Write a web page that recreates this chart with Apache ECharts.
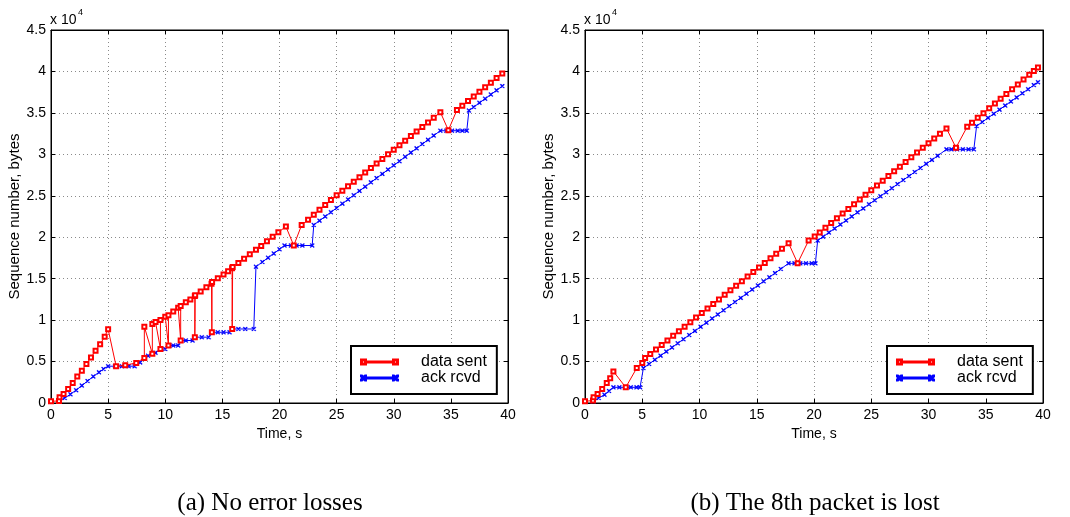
<!DOCTYPE html>
<html>
<head>
<meta charset="utf-8">
<script src="https://cdn.jsdelivr.net/npm/echarts@6/dist/echarts.min.js"></script>
<style>
html,body{margin:0;padding:0;background:#fff;}
#chart{width:1070px;height:517px;}
</style>
</head>
<body>
<div id="chart"></div>
<script>
// ---- Data (time in s, sequence number in bytes) ----
const xTicks = [0, 5, 10, 15, 20, 25, 30, 35, 40];
const yTicks = [0, 5000, 10000, 15000, 20000, 25000, 30000, 35000, 40000, 45000];
const seriesNames = ['data sent', 'ack rcvd'];
const captions = ['(a) No error losses', '(b) The 8th packet is lost'];

// (a) No error losses
const sentA = [
  [0,200],[0.7,250],[0.75,700],[1.1,1100],[1.5,1700],[1.9,2400],[2.3,3200],[2.7,3900],[3.1,4700],
  [3.5,5500],[3.9,6300],[4.3,7100],[4.7,8000],[5.0,8900],
  [5.7,4440],[6.5,4550],[7.46,4840],[8.17,5440],[8.17,9210],[8.87,5950],[8.87,9520],[9.15,9760],
  [9.58,6510],[9.58,10000],[10.0,10400],[10.28,6940],[10.28,10600],[10.7,11050],[11.13,11500],
  [11.35,7540],[11.35,11700],[11.8,12150],[12.2,12500],[12.59,12900],[12.59,7940],[12.62,13000],
  [13.1,13450],[13.6,13950],[14.05,14400],[14.08,8530],[14.1,14600],[14.6,15050],[15.1,15500],
  [15.5,15900],[15.85,16250],[15.86,8930],[15.9,16400],[16.4,16900],[16.9,17400],[17.4,17950],
  [17.94,18500],[18.4,18950],[18.9,19500],[19.4,20050],[19.9,20600],[20.56,21280],
  [21.25,19000],[21.94,21480],[22.5,22100],[23,22700],[23.5,23300],[24,23900],[24.5,24500],
  [25,25050],[25.5,25600],[26,26150],[26.5,26700],[27,27250],[27.5,27800],[28,28350],[28.5,28900],
  [29,29450],[29.5,30000],[30,30550],[30.5,31100],[31,31650],[31.5,32200],[32,32750],[32.5,33300],
  [33,33850],[33.5,34400],[34.08,35080],[34.78,32910],[35.53,35350],[36,35870],[36.5,36430],
  [37,36980],[37.5,37540],[38,38090],[38.5,38650],[39,39200],[39.5,39760]
];
const ackA = [
  [0.7,250],[1.2,600],[1.7,1050],[2.2,1550],[2.7,2100],[3.2,2650],[3.7,3200],[4.2,3700],[4.6,4100],
  [5.0,4440],[5.6,4440],[6.2,4440],[6.8,4440],[7.32,4440],[7.8,4900],[8.17,5440],[8.5,5700],
  [8.87,5950],[9.15,6050],[9.58,6510],[10.0,6510],[10.28,6940],[10.7,6940],[11.13,6940],
  [11.35,7540],[11.8,7540],[12.39,7540],[12.59,7940],[13.2,7940],[13.8,7940],[14.08,8530],
  [14.6,8530],[15.1,8530],[15.63,8530],[15.86,8930],[16.4,8930],[17.0,8930],[17.75,8930],
  [17.94,16440],[18.5,17010],[19,17530],[19.5,18040],[20,18550],[20.44,19000],[21,19000],
  [21.5,19000],[22,19000],[22.86,19000],[23.0,21480],[23.5,22000],[24,22500],[24.5,23020],
  [25,23530],[25.5,24050],[26,24560],[26.5,25070],[27,25590],[27.5,26100],[28,26620],[28.5,27130],
  [29,27640],[29.5,28160],[30,28670],[30.5,29180],[31,29700],[31.5,30210],[32,30720],[32.5,31240],
  [33,31750],[33.5,32260],[34.08,32850],[34.6,32850],[35.1,32850],[35.6,32850],[36.0,32850],
  [36.39,32850],[36.58,35280],[37,35700],[37.5,36210],[38,36710],[38.5,37220],[39,37720],[39.5,38230]
];

// (b) The 8th packet is lost
const sentB = [
  [0,200],[0.7,300],[0.75,700],[1.1,1100],[1.5,1700],[1.9,2400],[2.2,3000],[2.48,3810],
  [3.56,1890],[4.52,4220],[5.0,4820],[5.25,5420],[5.7,5900],[6.2,6450],[6.7,7000],[7.2,7550],
  [7.7,8100],[8.2,8650],[8.7,9200],[9.2,9750],[9.7,10300],[10.2,10850],[10.7,11400],[11.2,11950],
  [11.7,12500],[12.2,13050],[12.7,13600],[13.2,14150],[13.7,14700],[14.2,15250],[14.7,15800],
  [15.2,16350],[15.7,16900],[16.2,17450],[16.7,18000],[17.2,18600],[17.78,19280],
  [18.57,16870],[19.53,19600],[20.06,20080],[20.5,20580],[21,21150],[21.5,21710],[22,22280],
  [22.5,22850],[23,23410],[23.5,23980],[24,24550],[24.5,25110],[25,25680],[25.5,26250],[26,26810],
  [26.5,27380],[27,27950],[27.5,28510],[28,29080],[28.5,29650],[29,30210],[29.5,30780],[30,31350],
  [30.5,31910],[31,32480],[31.57,33130],[32.4,30800],[33.38,33330],[33.8,33820],[34.3,34400],
  [34.8,34970],[35.3,35550],[35.8,36130],[36.3,36710],[36.8,37290],[37.3,37860],[37.8,38440],
  [38.3,39020],[38.8,39600],[39.2,40060],[39.56,40480]
];
const ackB = [
  [0.73,200],[1.2,600],[1.7,1000],[2.1,1450],[2.48,1890],[3.0,1890],[3.5,1890],[4.0,1890],
  [4.5,1890],[4.81,1890],[5.1,4210],[5.6,4710],[6.1,5210],[6.6,5710],[7.1,6200],[7.6,6700],
  [8.1,7200],[8.6,7700],[9.1,8200],[9.6,8700],[10.1,9190],[10.6,9690],[11.1,10190],[11.6,10690],
  [12.1,11190],[12.6,11690],[13.1,12180],[13.6,12680],[14.1,13180],[14.6,13680],[15.1,14180],
  [15.6,14680],[16.1,15170],[16.6,15670],[17.1,16170],[17.78,16850],[18.3,16850],[18.8,16850],
  [19.3,16850],[19.8,16850],[20.12,16850],[20.32,19600],[20.8,20070],[21.3,20560],[21.8,21050],
  [22.3,21530],[22.8,22020],[23.3,22510],[23.8,23000],[24.3,23480],[24.8,23970],[25.3,24460],
  [25.8,24950],[26.3,25430],[26.8,25920],[27.3,26410],[27.8,26900],[28.3,27380],[28.8,27870],
  [29.3,28360],[29.8,28850],[30.3,29330],[30.8,29820],[31.57,30600],[32.0,30600],[32.5,30600],
  [33.0,30600],[33.5,30600],[33.96,30600],[34.2,33410],[34.7,33900],[35.2,34400],[35.7,34890],
  [36.2,35390],[36.7,35880],[37.2,36380],[37.7,36870],[38.2,37370],[38.7,37860],[39.2,38350],
  [39.56,38710]
];

// ---- Styling / layout ----
const FONT = '"Liberation Sans", Arial, Helvetica, sans-serif';
const RED = '#ff0000', BLUE = '#0000ff';
const grids = [
  {left: 51, top: 30, width: 457, height: 373},
  {left: 585, top: 30, width: 458, height: 373}
];
const xMin = xTicks[0], xMax = xTicks[xTicks.length - 1], xInt = xTicks[1] - xTicks[0];
const yMin = yTicks[0], yMax = yTicks[yTicks.length - 1], yInt = yTicks[1] - yTicks[0];
const gridLine = {show: true, lineStyle: {color: '#8a8a8a', width: 1, type: [1, 3]}};
const tick = {show: true, inside: true, length: 4, lineStyle: {color: '#000', width: 1}};
const axLine = {show: true, onZero: false, lineStyle: {color: '#000', width: 1}};

const xAxes = [], yAxes = [];
grids.forEach((g, i) => {
  xAxes.push({
    type: 'value', gridIndex: i, min: xMin, max: xMax, interval: xInt, position: 'bottom',
    axisLine: axLine, axisTick: tick, splitLine: gridLine,
    axisLabel: {color: '#000', fontSize: 14, fontFamily: FONT, margin: 5},
    name: 'Time, s', nameLocation: 'middle', nameGap: 22,
    nameTextStyle: {color: '#000', fontSize: 14, fontFamily: FONT}
  });
  xAxes.push({
    type: 'value', gridIndex: i, min: xMin, max: xMax, interval: xInt, position: 'top',
    axisLine: axLine, axisTick: tick, splitLine: {show: false}, axisLabel: {show: false}
  });
  yAxes.push({
    type: 'value', gridIndex: i, min: yMin, max: yMax, interval: yInt, position: 'left',
    axisLine: axLine, axisTick: tick, splitLine: gridLine,
    axisLabel: {color: '#000', fontSize: 14, fontFamily: FONT, margin: 5,
      formatter: v => String(v / 10000)},
    name: 'Sequence number, bytes', nameLocation: 'middle', nameGap: 26,
    nameTextStyle: {color: '#000', fontSize: 15, fontFamily: FONT}
  });
  yAxes.push({
    type: 'value', gridIndex: i, min: yMin, max: yMax, interval: yInt, position: 'right',
    axisLine: axLine, axisTick: tick, splitLine: {show: false}, axisLabel: {show: false}
  });
});

const xSym = 'path://M0,0L1,0L5,4L5,5L4,5L0,1Z M4,0L5,0L5,1L1,5L0,5L0,4Z';
function mkSeries(name, data, gi, color) {
  const isSent = color === RED;
  return {
    name: name, type: 'line', data: data,
    xAxisIndex: gi * 2, yAxisIndex: gi * 2,
    symbol: isSent ? 'emptyRect' : xSym, symbolSize: 4,
    showAllSymbol: true,
    lineStyle: {color: color, width: 1},
    itemStyle: {color: color, borderColor: color, borderWidth: isSent ? 1 : 0.3},
    emphasis: {disabled: true}, silent: true, animation: false, z: isSent ? 3 : 2
  };
}

const redIcon = 'path://M0,0H5V1H0Z M0,4H5V5H0Z M0,0H1V5H0Z M4,0H5V5H4Z M32,0H37V1H32Z M32,4H37V5H32Z M32,0H33V5H32Z M36,0H37V5H36Z M5,2H32V3H5Z';
const blueIcon = 'path://M0,0L1,0L5,4L5,5L4,5L0,1Z M4,0L5,0L5,1L1,5L0,5L0,4Z M32,0L33,0L37,4L37,5L36,5L32,1Z M36,0L37,0L37,1L33,5L32,5L32,4Z M5,2H32V3H5Z';
const legendPos = [{left: 351, top: 346}, {left: 887, top: 346}];
const legends = legendPos.map(p => ({
  left: p.left, top: p.top, orient: 'vertical', itemGap: 0,
  itemWidth: 37, itemHeight: 5, padding: [8, 10, 8, 9],
  backgroundColor: '#fff', borderColor: '#000', borderWidth: 2,
  selectedMode: false,
  textStyle: {color: '#000', fontSize: 16, fontFamily: FONT, padding: [0, 0, 0, 18], lineHeight: 16},
  data: [{name: seriesNames[0], icon: redIcon}, {name: seriesNames[1], icon: blueIcon}]
}));

const graphics = [];
grids.forEach((g, i) => {
  graphics.push({type: 'text', left: g.left - 1, top: 13,
    style: {text: 'x 10', font: '14px ' + FONT, fill: '#000'}});
  graphics.push({type: 'text', left: g.left + 27, top: 8,
    style: {text: '4', font: '9px ' + FONT, fill: '#000'}});
});
const capX = [270, 815];
captions.forEach((c, i) => {
  graphics.push({type: 'text', x: capX[i], y: 503,
    style: {text: c, font: '25px "Liberation Serif", "Times New Roman", serif', fill: '#000',
      textAlign: 'center', textVerticalAlign: 'middle'}});
});

const chart = echarts.init(document.getElementById('chart'), null, {renderer: 'canvas'});
chart.setOption({
  animation: false,
  backgroundColor: '#fff',
  grid: grids.map(g => Object.assign({show: true, borderColor: '#000', borderWidth: 1, backgroundColor: 'transparent', containLabel: false}, g)),
  xAxis: xAxes,
  yAxis: yAxes,
  legend: legends,
  graphic: graphics,
  series: [
    mkSeries(seriesNames[0], sentA, 0, RED),
    mkSeries(seriesNames[1], ackA, 0, BLUE),
    mkSeries(seriesNames[0], sentB, 1, RED),
    mkSeries(seriesNames[1], ackB, 1, BLUE)
  ]
});
</script>
</body>
</html>
